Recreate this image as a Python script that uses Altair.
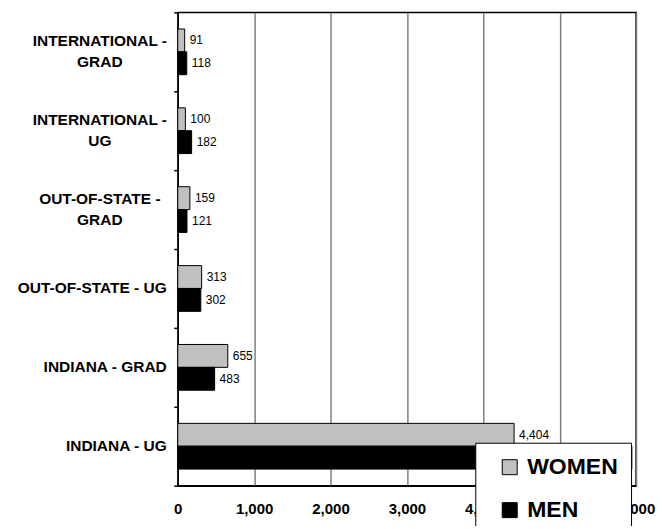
import altair as alt
import pandas as pd

categories = ["INTERNATIONAL -|GRAD", "INTERNATIONAL -|UG", "OUT-OF-STATE  -|GRAD",
              "OUT-OF-STATE  - UG", "INDIANA - GRAD", "INDIANA - UG"]
women = [91, 100, 159, 313, 655, 4404]
men = [118, 182, 121, 302, 483, 5945]
groups = ["WOMEN", "MEN"]
ticks = [0, 1000, 2000, 3000, 4000, 5000, 6000]

rows = []
for c, w, m in zip(categories, women, men):
    rows.append({"cat": c, "group": "WOMEN", "value": w})
    rows.append({"cat": c, "group": "MEN", "value": m})
df = pd.DataFrame(rows)
cats_df = pd.DataFrame({"cat": categories})

FONT = "Liberation Sans, Arial"

y = alt.Y("cat:N", sort=categories, title=None,
          scale=alt.Scale(paddingInner=0, paddingOuter=0),
          axis=alt.Axis(labels=False, tickBand="extent", tickSize=4, tickColor="black",
                        tickWidth=1.5, domainColor="black", domainWidth=1.5, grid=False))
yo = alt.YOffset("group:N", sort=groups, scale=alt.Scale(paddingInner=0, paddingOuter=0.725))
x = alt.X("value:Q", title=None,
          scale=alt.Scale(domain=[0, 6000], nice=False),
          axis=alt.Axis(values=ticks, format=",.0f", labelFlush=False,
                        ticks=False, labelPadding=16, labelFont=FONT, labelFontSize=15,
                        labelFontWeight="bold", labelColor="black", domainColor="black",
                        domainWidth=1.5, grid=True, gridColor="#808080", gridWidth=1.5))

bars = alt.Chart(df).mark_bar(stroke="black", strokeWidth=1).encode(
    x=x, y=y, yOffset=yo,
    color=alt.Color("group:N", sort=groups,
                    scale=alt.Scale(domain=groups, range=["#C0C0C0", "#000000"]),
                    legend=alt.Legend(title=None, orient="none", legendX=298, legendY=431,
                                      direction="vertical", fillColor="white", strokeColor="black",
                                      padding=13, symbolOffset=10, symbolType="square", symbolSize=225,
                                      symbolStrokeColor="black", symbolStrokeWidth=1,
                                      labelExpr="datum.label + '\u00a0\u00a0'",
                                      labelFont=FONT, labelFontSize=23, labelFontWeight="bold",
                                      labelColor="black", labelOffset=6, rowPadding=19)),
)

labels = alt.Chart(df).transform_filter("datum.value < 5000 || datum.group == 'WOMEN'").mark_text(
    align="left", baseline="middle", dx=5, font=FONT, fontSize=12, color="black"
).encode(x="value:Q", y=alt.Y("cat:N", sort=categories),
         yOffset=alt.YOffset("group:N", sort=groups),
         text=alt.Text("value:Q", format=",.0f"))

ylab_multi = alt.Chart(cats_df).transform_filter("indexof(datum.cat, '|') >= 0").transform_calculate(
    lbl="split(datum.cat, '|')"
).mark_text(align="center", baseline="middle", dy=-10.5, lineHeight=21, font=FONT,
            fontSize=15.5, fontWeight="bold", color="black").encode(
    y=alt.Y("cat:N", sort=categories), x=alt.value(-78), text="lbl:N")

ylab_single = alt.Chart(cats_df).transform_filter("indexof(datum.cat, '|') < 0").mark_text(
    align="right", baseline="middle", font=FONT, fontSize=15.5, fontWeight="bold", color="black"
).encode(y=alt.Y("cat:N", sort=categories), x=alt.value(-11), text="cat:N")

chart = alt.layer(bars, labels, ylab_multi, ylab_single).properties(
    width=459, height=474,
    autosize=alt.AutoSizeParams(type="none"),
    padding={"left": 170, "top": 4, "right": 20, "bottom": 40},
).configure_view(stroke="black", strokeWidth=1.5)

chart.save("out.html", embed_options={"renderer": "svg", "actions": False})
